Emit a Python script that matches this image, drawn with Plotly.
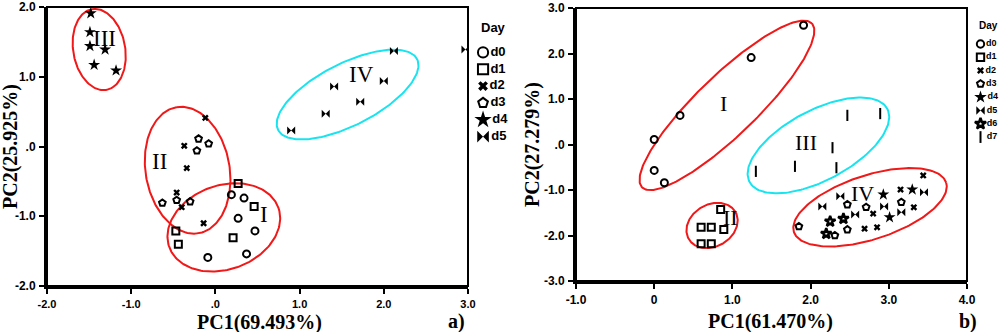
import numpy as np
import plotly.graph_objects as go

# ---------------- data: panel a ----------------
days_a = ["d0", "d1", "d2", "d3", "d4", "d5"]
a_d0_x = [0.19, 0.34, 0.27, 0.47, -0.09, 0.37]
a_d0_y = [-0.69, -0.74, -1.03, -1.21, -1.59, -1.54]
a_d1_x = [0.27, 0.46, -0.47, 0.21, -0.44]
a_d1_y = [-0.53, -0.86, -1.21, -1.31, -1.40]
a_d2_x = [-0.12, -0.37, -0.34, -0.46, -0.40, -0.14]
a_d2_y = [0.41, 0.01, -0.31, -0.66, -0.87, -1.10]
a_d3_x = [-0.20, -0.08, -0.22, -0.46, -0.63, -0.30]
a_d3_y = [0.11, 0.04, -0.06, -0.77, -0.81, -0.79]
a_d4_x = [-1.48, -1.49, -1.49, -1.31, -1.44, -1.18]
a_d4_y = [1.91, 1.64, 1.44, 1.39, 1.17, 1.09]
a_d5_x = [2.12, 2.00, 1.41, 1.72, 1.31, 0.90, 2.97]
a_d5_y = [1.37, 0.94, 0.86, 0.64, 0.47, 0.23, 1.39]

# ---------------- data: panel b ----------------
days_b = ["d0", "d1", "d2", "d3", "d4", "d5", "d6", "d7"]
b_d0_x = [1.91, 1.24, 0.33, 0.0, 0.0, 0.13]
b_d0_y = [2.62, 1.91, 0.64, 0.11, -0.57, -0.84]
b_d1_x = [0.85, 0.60, 0.73, 0.89, 0.60, 0.73]
b_d1_y = [-1.43, -1.82, -1.82, -1.87, -2.18, -2.18]
b_d2_x = [3.44, 3.15, 3.32, 2.80, 2.69, 2.85]
b_d2_y = [-0.68, -0.99, -1.38, -1.52, -1.85, -1.82]
b_d3_x = [2.47, 2.71, 3.16, 1.85, 2.47, 2.31]
b_d3_y = [-1.32, -1.38, -1.27, -1.80, -1.87, -2.00]
b_d4_x = [3.30, 2.93, 3.01]
b_d4_y = [-0.99, -1.10, -1.60]
b_d5_x = [3.45, 2.38, 2.15, 2.94, 2.57, 3.16]
b_d5_y = [-1.05, -1.14, -1.36, -1.36, -1.54, -1.49]
b_d6_x = [2.42, 2.25, 2.20]
b_d6_y = [-1.63, -1.69, -1.96]
b_d7_x = [1.30, 1.80, 2.33, 2.28, 2.47, 2.89]
b_d7_y = [-0.59, -0.48, -0.51, -0.07, 0.64, 0.68]

# axis tick labels
a_xticks = [-2, -1, 0, 1, 2, 3]
a_xtext = ["-2.0", "-1.0", ".0", "1.0", "2.0", "3.0"]
a_yticks = [-2, -1, 0, 1, 2]
a_ytext = ["-2.0", "-1.0", ".0", "1.0", "2.0"]
b_xticks = [-1, 0, 1, 2, 3, 4]
b_xtext = ["-1.0", "0", "1.0", "2.0", "3.0", "4.0"]
b_yticks = [-3, -2, -1, 0, 1, 2, 3]
b_ytext = ["-3.0", "-2.0", "-1.0", ".0", "1.0", "2.0", "3.0"]

# cluster labels
a_lab = ["III", "II", "I", "IV"]
a_lab_x = [-1.32, -0.66, 0.58, 1.74]
a_lab_y = [1.55, -0.22, -0.97, 1.03]
b_lab = ["I", "II", "III", "IV"]
b_lab_x = [0.89, 0.97, 1.94, 2.66]
b_lab_y = [0.90, -1.60, 0.04, -1.08]

# ---------------- layout geometry ----------------
W, H = 1000, 332
A_XDOM = [0.047, 0.468]
A_YDOM = [1 - 286 / H, 1 - 7 / H]
B_XDOM = [0.576, 0.967]
B_YDOM = [1 - 281 / H, 1 - 8 / H]
A_XR, A_YR = [-2, 3], [-2, 2]
B_XR, B_YR = [-1, 4], [-3, 3]

def scale(dom, rng, total):
    return (dom[1] - dom[0]) * total / (rng[1] - rng[0])

a_sx, a_sy = scale(A_XDOM, A_XR, W), scale(A_YDOM, A_YR, H)
b_sx, b_sy = scale(B_XDOM, B_XR, W), scale(B_YDOM, B_YR, H)

def ellipse(cx, cy, a, b, ang, sx, sy):
    t = np.linspace(0, 2 * np.pi, 200)
    th = np.radians(ang)
    dx = a * np.cos(t) * np.cos(th) - b * np.sin(t) * np.sin(th)
    dy = a * np.cos(t) * np.sin(th) + b * np.sin(t) * np.cos(th)
    return cx + dx / sx, cy + dy / sy

RED = "#f01818"
CYAN = "#18e4f0"
# (center x, center y, semi-major px, semi-minor px, angle deg, colour)
a_ell = [(-1.38, 1.39, 41, 26, 100, RED),
         (-0.33, -0.34, 64, 42, 100, RED),
         (0.10, -1.16, 58, 42, 20, RED),
         (1.57, 0.745, 78, 31, 27, CYAN)]
b_ell = [(0.93, 0.86, 118, 30, 44, RED),
         (0.74, -1.78, 27, 21, 30, RED),
         (2.10, -0.02, 78, 35, 28, CYAN),
         (2.76, -1.38, 80, 32, 18, RED)]

# marker styles
sym = {"d0": ("circle-open", 7, 2), "d1": ("square-open", 7, 2),
       "d2": ("x", 6, 0), "d3": ("pentagon-open", 7, 2),
       "d4": ("star", 9, 0), "d5": ("bowtie", 8, 0),
       "d6": ("star-open", 8, 2.4), "d7": ("line-ns", 8, 2)}

def mk(d, scale_=1.0):
    s, sz, lw = sym[d]
    return dict(symbol=s, size=sz * scale_, color="black",
                line=dict(color="black", width=lw))

fig = go.Figure()

# ellipses
for (cx, cy, a, b, ang, col) in a_ell:
    ex, ey = ellipse(cx, cy, a, b, ang, a_sx, a_sy)
    fig.add_trace(go.Scatter(x=ex, y=ey, mode="lines", line=dict(color=col, width=2),
                             xaxis="x", yaxis="y", hoverinfo="skip"))
for (cx, cy, a, b, ang, col) in b_ell:
    ex, ey = ellipse(cx, cy, a, b, ang, b_sx, b_sy)
    fig.add_trace(go.Scatter(x=ex, y=ey, mode="lines", line=dict(color=col, width=2),
                             xaxis="x2", yaxis="y2", hoverinfo="skip"))

a_series = [("d0", a_d0_x, a_d0_y), ("d1", a_d1_x, a_d1_y), ("d2", a_d2_x, a_d2_y),
            ("d3", a_d3_x, a_d3_y), ("d4", a_d4_x, a_d4_y), ("d5", a_d5_x, a_d5_y)]
b_series = [("d0", b_d0_x, b_d0_y), ("d1", b_d1_x, b_d1_y), ("d2", b_d2_x, b_d2_y),
            ("d3", b_d3_x, b_d3_y), ("d4", b_d4_x, b_d4_y), ("d5", b_d5_x, b_d5_y),
            ("d6", b_d6_x, b_d6_y), ("d7", b_d7_x, b_d7_y)]

for d, xs, ys in a_series:
    fig.add_trace(go.Scatter(x=xs, y=ys, mode="markers", marker=mk(d), name=d,
                             xaxis="x", yaxis="y"))
for d, xs, ys in b_series:
    fig.add_trace(go.Scatter(x=xs, y=ys, mode="markers", marker=mk(d), name=d,
                             xaxis="x2", yaxis="y2"))

# manual legends
for i, d in enumerate(days_a):
    fig.add_trace(go.Scatter(x=[0.16], y=[i], mode="markers+text", text=[d],
                             textposition="middle right", marker=mk(d, 1.45),
                             textfont=dict(family="Liberation Sans", size=13, color="black", weight="bold"),
                             xaxis="x3", yaxis="y3", cliponaxis=False))
for i, d in enumerate(days_b):
    fig.add_trace(go.Scatter(x=[0.22], y=[i], mode="markers+text", text=[d],
                             textposition="middle right", marker=mk(d, 1.05),
                             textfont=dict(family="Liberation Sans Narrow, Liberation Sans", size=9, color="black", weight="bold"),
                             xaxis="x4", yaxis="y4", cliponaxis=False))

tickfont = dict(family="Liberation Sans", size=12, color="black", weight="bold")
common = dict(showgrid=False, zeroline=False, showline=True, linewidth=3, linecolor="black",
              ticks="outside", ticklen=5, tickwidth=2, tickcolor="black", tickfont=tickfont,
              tickmode="array", automargin=False)
hidden = dict(visible=False, showgrid=False, zeroline=False, fixedrange=True, automargin=False)

fig.update_layout(
    width=W, height=H, margin=dict(l=0, r=0, t=0, b=0, autoexpand=False),
    paper_bgcolor="white", plot_bgcolor="white", showlegend=False,
    xaxis=dict(domain=A_XDOM, range=A_XR, tickvals=a_xticks, ticktext=a_xtext,
               anchor="y", ticklabelstandoff=1, **common),
    yaxis=dict(domain=A_YDOM, range=A_YR, tickvals=a_yticks, ticktext=a_ytext,
               anchor="x", ticklabelstandoff=1, **common),
    xaxis2=dict(domain=B_XDOM, range=B_XR, tickvals=b_xticks, ticktext=b_xtext,
                anchor="y2", ticklabelstandoff=1, **common),
    yaxis2=dict(domain=B_YDOM, range=B_YR, tickvals=b_yticks, ticktext=b_ytext,
                anchor="x2", ticklabelstandoff=1, **common),
    xaxis3=dict(domain=[0.476, 0.52], range=[0, 1], anchor="y3", **hidden),
    yaxis3=dict(domain=[1 - 145 / H, 1 - 44 / H], range=[5.5, -0.5], anchor="x3", **hidden),
    xaxis4=dict(domain=[0.975, 1.0], range=[0, 1], anchor="y4", **hidden),
    yaxis4=dict(domain=[1 - 143.7 / H, 1 - 37.3 / H], range=[7.5, -0.5], anchor="x4", **hidden),
)
fig.update_xaxes(selector=dict(anchor="y"), tickfont_size=11)

# frames (thinner top/right)
for xr, yr in [("x domain", "y domain"), ("x2 domain", "y2 domain")]:
    fig.add_shape(type="rect", xref=xr, yref=yr, x0=0, x1=1, y0=0, y1=1,
                  line=dict(color="black", width=2), layer="above")

serif_b = dict(family="Liberation Serif", size=20, color="black", weight="bold")
serif = dict(family="Liberation Serif", color="black")

for t, x, y in zip(a_lab, a_lab_x, a_lab_y):
    fig.add_annotation(x=x, y=y, xref="x", yref="y", text=t, showarrow=False,
                       font=dict(size=23, **serif))
for t, x, y in zip(b_lab, b_lab_x, b_lab_y):
    fig.add_annotation(x=x, y=y, xref="x2", yref="y2", text=t, showarrow=False,
                       font=dict(size=22, **serif))

titles = [("PC1(69.493%)", 0.259, 1 - 322 / H, 0),
          ("PC2(25.925%)", 0.011, 1 - 147 / H, -90),
          ("PC1(61.470%)", 0.770, 1 - 321 / H, 0),
          ("PC2(27.279%)", 0.532, 1 - 145 / H, -90),
          ("a)", 0.456, 1 - 321 / H, 0),
          ("b)", 0.968, 1 - 321 / H, 0)]
for t, x, y, r in titles:
    fig.add_annotation(x=x, y=y, xref="paper", yref="paper", text=t, showarrow=False,
                       textangle=r, font=serif_b, xanchor="center", yanchor="middle")

fig.add_annotation(x=0.479, y=1 - 27 / H, xref="paper", yref="paper", text="Day",
                   showarrow=False, xanchor="left", yanchor="middle",
                   font=dict(family="Liberation Sans", size=13, color="black", weight="bold"))
fig.add_annotation(x=0.977, y=1 - 25 / H, xref="paper", yref="paper", text="Day",
                   showarrow=False, xanchor="left", yanchor="middle",
                   font=dict(family="Liberation Sans Narrow, Liberation Sans", size=10, color="black", weight="bold"))

fig.write_html("out.html", config={"displayModeBar": False},
               post_script="document.body.style.margin='0';document.body.style.overflow='hidden';")
